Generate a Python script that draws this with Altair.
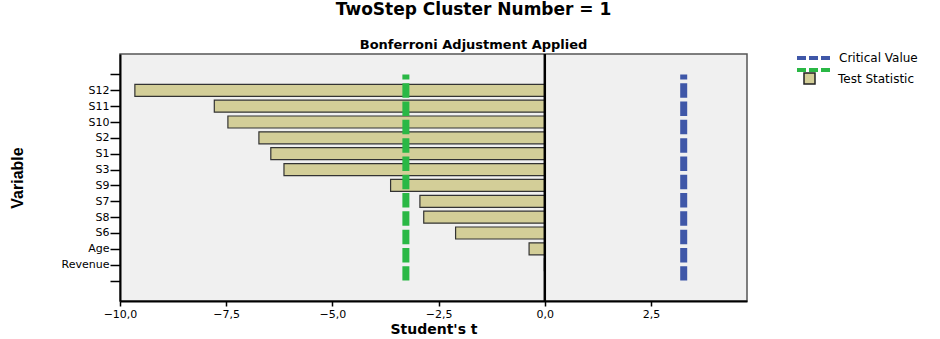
import altair as alt
import pandas as pd

variables = ["S12", "S11", "S10", "S2", "S1", "S3", "S9", "S7", "S8", "S6", "Age", "Revenue"]
t_values = [-9.65, -7.78, -7.46, -6.73, -6.45, -6.14, -3.63, -2.94, -2.85, -2.10, -0.37, -0.01]
critical_series = ["Critical Value", " "]
critical_values = [3.27, -3.27]
x_ticks = [-10.0, -7.5, -5.0, -2.5, 0.0, 2.5]
x_domain = [-10.0, 4.76]

tick_domain = ["_top"] + variables + ["_bottom"]
y_domain = ["_pad1"] + tick_domain + ["_pad2"]

bars_df = pd.DataFrame({"Variable": variables, "t": t_values, "series": ["Test Statistic"] * len(variables)})
crit_df = pd.DataFrame({"series": critical_series, "value": critical_values,
                        "ytop": ["_top", "_top"], "ybot": ["_bottom", "_bottom"]})
zero_df = pd.DataFrame({"z": [0.0]})

FONT = "DejaVu Sans"

y_scale = alt.Scale(type="point", domain=y_domain, padding=0.29)
x_scale = alt.Scale(domain=x_domain, nice=False, zero=False)

x_axis = alt.Axis(
    values=x_ticks,
    labelExpr="replace(format(datum.value, '.1f'), '.', ',')",
    labelFlush=False,
    title="Student's t",
    grid=False,
    domainColor="black", domainWidth=2,
    tickColor="black", tickSize=5, tickWidth=1.5,
    labelFont=FONT, labelFontSize=11, labelColor="black", labelPadding=2,
    titleFont=FONT, titleFontSize=14, titleFontWeight="bold", titleColor="black",
    titlePadding=3,
)
y_axis = alt.Axis(
    title="Variable",
    values=tick_domain,
    labelExpr="indexof(datum.label, '_') == 0 ? '' : datum.label",
    grid=False,
    domainColor="black", domainWidth=2,
    tickColor="black", tickSize=10, tickWidth=1.5,
    labelFont=FONT, labelFontSize=11, labelColor="black", labelPadding=1,
    titleFont="Liberation Sans", titleFontSize=16, titleFontWeight="bold",
    titleColor="black", titlePadding=36,
)

bars = alt.Chart(bars_df).mark_bar(size=12, stroke="#333333", strokeWidth=1.2).encode(
    x=alt.X("t:Q", scale=x_scale, axis=x_axis, stack=None),
    y=alt.Y("Variable:N", scale=y_scale, axis=y_axis, sort=None),
    fill=alt.Fill("series:N", scale=alt.Scale(domain=["Test Statistic"], range=["#d3ce98"]),
                  legend=alt.Legend(title=None, symbolType="square", symbolSize=121,
                                    symbolStrokeColor="#222222", symbolStrokeWidth=1.5,
                                    labelFont=FONT, labelFontSize=12, labelColor="black",
                                    labelOffset=22, orient="none", legendX=683, legendY=18)),
)

rules = alt.Chart(crit_df).mark_rule(strokeWidth=7, strokeDash=[14.5, 3.8], strokeDashOffset=9.5).encode(
    x=alt.X("value:Q", scale=x_scale),
    y=alt.Y("ytop:N", scale=y_scale),
    y2="ybot:N",
    color=alt.Color("series:N",
                    scale=alt.Scale(domain=critical_series, range=["#3f57a8", "#2ab845"]),
                    legend=alt.Legend(title=None, symbolType="M-1,0H5.2", symbolSize=121,
                                      symbolStrokeWidth=4, symbolDash=[9, 3],
                                      symbolFillColor="transparent",
                                      labelFont=FONT, labelFontSize=12, labelColor="black",
                                      labelOffset=29, rowPadding=0, clipHeight=12,
                                      orient="none", legendX=675, legendY=-2)),
)

zero = alt.Chart(zero_df).mark_rule(color="black", strokeWidth=2.5).encode(
    x=alt.X("z:Q", scale=x_scale)
)

chart = alt.layer(bars, rules, zero).resolve_scale(color="independent", fill="independent").properties(
    width=627,
    height=247,
    title=alt.TitleParams(
        text="TwoStep Cluster Number = 1",
        subtitle="Bonferroni Adjustment Applied",
        font=FONT, fontSize=17, fontWeight="bold", color="black",
        subtitleFont=FONT, subtitleFontSize=13, subtitleFontWeight="bold", subtitleColor="black",
        subtitlePadding=20, anchor="middle", frame="bounds", offset=-1, dx=10,
    ),
    autosize=alt.AutoSizeParams(type="none"),
    padding={"left": 120, "top": 54, "right": 193, "bottom": 38},
    background="white",
).configure_view(
    fill="#f0f0f0", stroke="#555555", strokeWidth=1.5
)

chart.save("out.html", embed_options={"renderer": "svg", "actions": False})
